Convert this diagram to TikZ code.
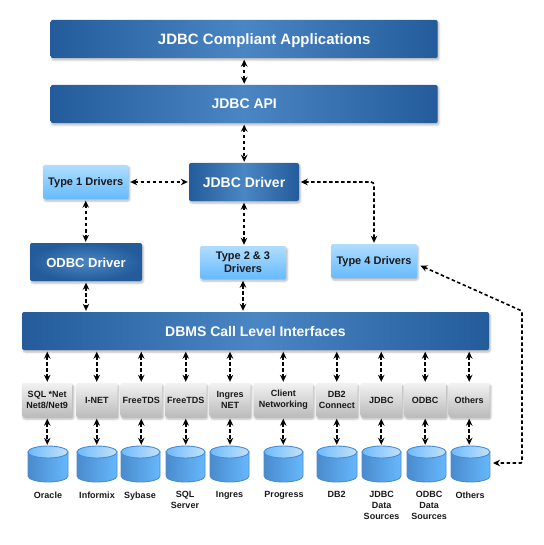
\documentclass[tikz,border=0pt]{standalone}
\usepackage{fontspec}
\setmainfont{Liberation Sans}
\usetikzlibrary{arrows.meta,shadows.blur}
\definecolor{bardark}{HTML}{245C9B}
\definecolor{barlight}{HTML}{4A85C4}
\definecolor{skytop}{HTML}{B0DDFF}
\definecolor{skybot}{HTML}{66BBFF}
\definecolor{greytop}{HTML}{F2F2F2}
\definecolor{greybot}{HTML}{BBBBBB}
\definecolor{cylline}{HTML}{4A8BD0}
\definecolor{cylleft}{HTML}{4A8BCD}
\definecolor{cylright}{HTML}{66B8FC}
\definecolor{lidleft}{HTML}{6DBBFF}
\definecolor{lidright}{HTML}{C4E2FA}
\tikzset{
  softshadow/.style={blur shadow={shadow xshift=1.2pt,shadow yshift=-2pt,shadow blur radius=2pt,shadow opacity=30}},
  basebox/.style={rectangle,rounded corners=2pt,inner sep=0pt,align=center,font=\bfseries,softshadow},
  bar/.style={basebox,left color=bardark,right color=bardark,middle color=barlight,text=white,text depth=0pt},
  roundbar/.style={basebox,inner color=barlight,outer color=bardark,text=white,text depth=0pt},
  sky/.style={basebox,top color=skytop,bottom color=skybot,text=black!90,font=\bfseries\fontsize{11}{13}\selectfont},
  greybox/.style={basebox,top color=greytop,bottom color=greybot,text=black!90,minimum height=34pt,font=\bfseries\fontsize{9}{11}\selectfont},
  dbnode/.style={rectangle,inner sep=0pt,minimum height=36pt},
  dblabel/.style={inner sep=0pt,anchor=north,align=center,text=black!90,font=\bfseries\fontsize{9}{11}\selectfont},
  link/.style={draw=black,line width=1.6pt,dash pattern=on 3.5pt off 2.5pt,
    {Stealth[length=7pt,width=6.5pt]}-{Stealth[length=7pt,width=6.5pt]},shorten >=1pt,shorten <=1.5pt},
}
\begin{document}
\begin{tikzpicture}[x=1pt,y=-1pt]
\useasboundingbox (0,0) rectangle (543,545);
\node[bar,minimum width=387pt,minimum height=38pt,font=\bfseries\fontsize{15}{18}\selectfont] (app) at (244.2,39) {\hspace*{40pt}JDBC Compliant Applications};
\node[bar,minimum width=387pt,minimum height=38pt,font=\bfseries\fontsize{14}{17}\selectfont] (api) at (244.2,104) {JDBC API};
\node[sky,minimum width=85.5pt,minimum height=34pt,text depth=0pt] (t1) at (85.75,182) {Type 1 Drivers};
\node[bar,minimum width=110pt,minimum height=38pt,font=\bfseries\fontsize{14}{17}\selectfont] (drv) at (244,182) {\raisebox{-1pt}{JDBC Driver}};
\node[roundbar,minimum width=112pt,minimum height=38pt,font=\bfseries\fontsize{13}{16}\selectfont] (odbc) at (86,262) {\raisebox{-1.5pt}{ODBC Driver}};
\node[sky,minimum width=86pt,minimum height=33pt] (t23) at (243,262.5) {Type 2 \& 3\\Drivers};
\node[sky,minimum width=86pt,minimum height=34pt,text depth=0pt] (t4) at (374,261) {Type 4 Drivers};
\node[bar,minimum width=467pt,minimum height=38pt,font=\bfseries\fontsize{14}{17}\selectfont] (dbms) at (255.5,331) {DBMS Call Level Interfaces};
\foreach \n/\cx/\w/\txt in {
  1/47.25/50.5/{SQL *Net\\Net8/Net9},
  2/96.75/41.5/{I-NET},
  3/141.25/41.5/{FreeTDS},
  4/185.75/41.5/{FreeTDS},
  5/230/41/{Ingres\\NET},
  6/283.25/59.5/{Client\\Networking},
  7/336.75/41.5/{DB2\\Connect},
  8/381.25/41.5/{JDBC},
  9/425.2/42/{ODBC},
  10/469.2/41/{Others}}
{
  \node[greybox,minimum width=\w pt] (g\n) at (\cx,400) {\txt};
}
\foreach \n/\cx/\rx in {1/48/20,2/97/20,3/140.5/19.5,4/185.5/19.5,5/229.5/19.5,6/283.5/19.5,7/337/20,8/381.5/19.5,9/426.5/19.5,10/470.5/19.5}
{
  \node[dbnode,minimum width=2*\rx pt] (c\n) at (\cx,464) {};
  \begin{scope}[shift={(\cx,464)}]
    \path[draw=cylline,line width=.9pt,left color=cylleft,right color=cylright]
      (-\rx,-12) -- (-\rx,12)
      .. controls (-\rx,15.3) and (-.55*\rx,18) .. (0,18)
      .. controls (.55*\rx,18) and (\rx,15.3) .. (\rx,12) -- (\rx,-12) -- cycle;
    \path[draw=cylline,line width=.9pt,left color=lidleft,right color=lidright]
      (0,-12) ellipse [x radius=\rx,y radius=6];
  \end{scope}
}
\foreach \n/\cx/\ly/\txt in {
  1/48/491.5/{Oracle},
  2/97/491.5/{Informix},
  3/140/491.5/{Sybase},
  4/185/491.5/{SQL\\Server},
  5/229.5/491.5/{Ingres},
  6/284/491.5/{Progress},
  7/336.5/491.5/{DB2},
  8/381.5/491.5/{JDBC\\Data\\Sources},
  9/429/491.5/{ODBC\\Data\\Sources},
  10/470/491.5/{Others}}
{
  \node[dblabel] (l\n) at (\cx,\ly) {\txt};
}
\draw[link] (app.south) -- (api.north);
\draw[link] (api.south) -- (drv.north -| api.south);
\draw[link] (t1.east) -- (drv.west);
\draw[link] (t1.south) -- (odbc.north -| t1.south);
\draw[link] (drv.south) -- (t23.north -| drv.south);
\draw[link] (odbc.south) -- (dbms.north -| odbc.south);
\draw[link] (t23.south) -- (dbms.north -| t23.south);
\coordinate (bendA) at (374,182);
\draw[link,rounded corners=3pt] (drv.east) -- (bendA) -- (t4.north);
\foreach \n in {1,...,10}{
  \draw[link] (dbms.south -| g\n.north) -- (g\n.north);
  \draw[link] (g\n.south) -- (c\n.north -| g\n.south);
}
\coordinate (bendB) at (522,463);
\coordinate (bendC) at (522,311);
\coordinate (t4in) at (419,265);
\coordinate (c10in) at (492,463);
\draw[link,rounded corners=1pt] (t4in) -- (bendC) -- (bendB) -- (c10in);
\end{tikzpicture}
\end{document}
